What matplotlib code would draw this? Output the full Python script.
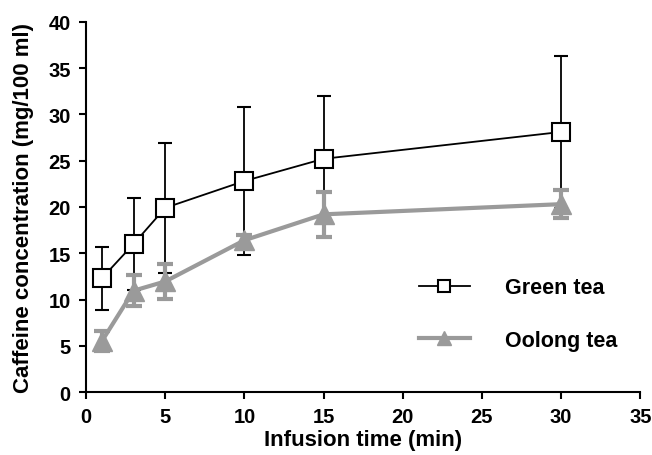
import numpy as np
import matplotlib
matplotlib.use("Agg")
import matplotlib.pyplot as plt

plt.rcParams['font.family'] = ['Liberation Sans', 'DejaVu Sans']
plt.rcParams['font.weight'] = 'bold'

# data
time_min = [1, 3, 5, 10, 15, 30]
green_mean = [12.3, 16.0, 19.9, 22.8, 25.2, 28.1]
green_err = [3.4, 5.0, 7.0, 8.0, 6.8, 8.2]
oolong_mean = [5.5, 10.95, 11.95, 16.4, 19.2, 20.3]
oolong_err = [1.1, 1.65, 1.85, 0.6, 2.4, 1.5]

grey = '#9a9a9a'

fig = plt.figure(figsize=(6.52, 4.56), dpi=100)
ax = fig.add_axes([0.132, 0.138, 0.850, 0.812])

ax.errorbar(time_min, green_mean, yerr=green_err, color='black', lw=1.3,
            marker='s', ms=13.5, mfc='white', mec='black', mew=1.5,
            ecolor='black', elinewidth=1.3, capsize=5, capthick=1.3,
            label='Green tea', zorder=2)
ax.errorbar(time_min, oolong_mean, yerr=oolong_err, color=grey, lw=3,
            marker='^', ms=15, mfc=grey, mec=grey,
            ecolor=grey, elinewidth=3, capsize=5.5, capthick=3,
            label='Oolong tea', zorder=3)

ax.set_xlim(0, 35)
ax.set_ylim(0, 40)
ax.set_xticks(np.arange(0, 36, 5))
ax.set_yticks(np.arange(0, 41, 5))
ax.spines['top'].set_visible(False)
ax.spines['right'].set_visible(False)
for s in ['left', 'bottom']:
    ax.spines[s].set_linewidth(1.5)
ax.tick_params(direction='out', length=5, width=1.5, labelsize=14.5, pad=6)
for lab in ax.get_xticklabels() + ax.get_yticklabels():
    lab.set_fontweight('bold')

ax.set_xlabel('Infusion time (min)', fontsize=16, fontweight='bold', labelpad=2)
ax.set_ylabel('Caffeine concentration (mg/100 ml)', fontsize=16,
              fontweight='bold', labelpad=10)

handles, labels = ax.get_legend_handles_labels()
handles = [h[0] for h in handles]
ax.legend(handles, labels, loc='upper left', bbox_to_anchor=(0.6, 0.31),
          frameon=False, handlelength=2.4, handletextpad=1.6,
          labelspacing=1.45, borderpad=0, borderaxespad=0, markerscale=0.65,
          prop={'weight': 'bold', 'size': 15.5})

fig.savefig('out.png', dpi=100)
